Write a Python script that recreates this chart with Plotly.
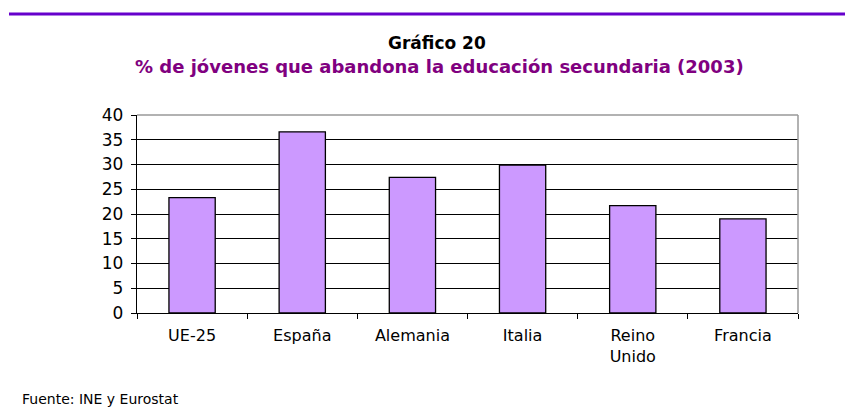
import plotly.graph_objects as go

categories = ["UE-25", "España", "Alemania", "Italia", "Reino<br>Unido", "Francia"]
values = [23.3, 36.6, 27.4, 29.9, 21.7, 19.0]
y_ticks = [0, 5, 10, 15, 20, 25, 30, 35, 40]

FONT = "DejaVu Sans"

# page body has an 8px margin: figure origin sits at screen (8, 8)
OFF = 8
PL, PR, PT, PB = 137, 798, 115, 313  # plot area in screen pixels
PW, PH = PR - PL, PB - PT


def px(x):
    return (x - PL) / PW


def py(y):
    return (PB - y) / PH


fig = go.Figure()
fig.add_trace(go.Bar(
    x=categories, y=values,
    marker=dict(color="#CC99FF", line=dict(color="#000000", width=1.3)),
    width=0.42,
))

fig.update_layout(
    width=853 - OFF, height=409 - OFF,
    margin=dict(l=PL - OFF, r=853 - PR, t=PT - OFF, b=409 - PB, pad=0),
    paper_bgcolor="white", plot_bgcolor="white",
    showlegend=False,
    font=dict(family=FONT, size=14, color="#000000"),
    shapes=[
        dict(type="line", xref="paper", yref="paper", x0=0, x1=1, y0=1, y1=1,
             line=dict(color="#999999", width=1.5)),
        dict(type="line", xref="paper", yref="paper", x0=1, x1=1, y0=0, y1=1,
             line=dict(color="#999999", width=1.5)),
        dict(type="line", xref="paper", yref="paper", x0=px(9), x1=px(853),
             y0=py(14), y1=py(14),
             line=dict(color="#6600CC", width=3)),
    ],
    annotations=[
        dict(text="<b>Gráfico 20</b>", xref="paper", yref="paper",
             x=px(437), y=py(43), showarrow=False,
             font=dict(family=FONT, size=17, color="#000000"), xanchor="center", yanchor="middle"),
        dict(text="<b>% de jóvenes que abandona la educación secundaria (2003)</b>", xref="paper", yref="paper",
             x=px(439), y=py(66), showarrow=False,
             font=dict(family=FONT, size=18, color="#800080"), xanchor="center", yanchor="middle"),
        dict(text="Fuente: INE y Eurostat", xref="paper", yref="paper",
             x=px(20), y=py(399), showarrow=False,
             font=dict(family=FONT, size=14, color="#000000"), xanchor="left", yanchor="middle"),
    ],
)

fig.update_xaxes(
    type="category", tickson="boundaries", ticks="outside", ticklen=5, tickcolor="#000000",
    showline=True, linecolor="#000000", linewidth=1.3, showgrid=False,
    ticklabelstandoff=8,
    tickfont=dict(family=FONT, size=16, color="#000000"),
)
fig.update_yaxes(
    range=[0, 40], tickvals=y_ticks, ticks="outside", ticklen=5, tickcolor="#000000",
    showline=True, linecolor="#000000", linewidth=1.3,
    showgrid=True, gridcolor="#000000", gridwidth=1, zeroline=False,
    ticklabelstandoff=4,
    tickfont=dict(family=FONT, size=17, color="#000000"),
)

fig.write_html("out.html")
